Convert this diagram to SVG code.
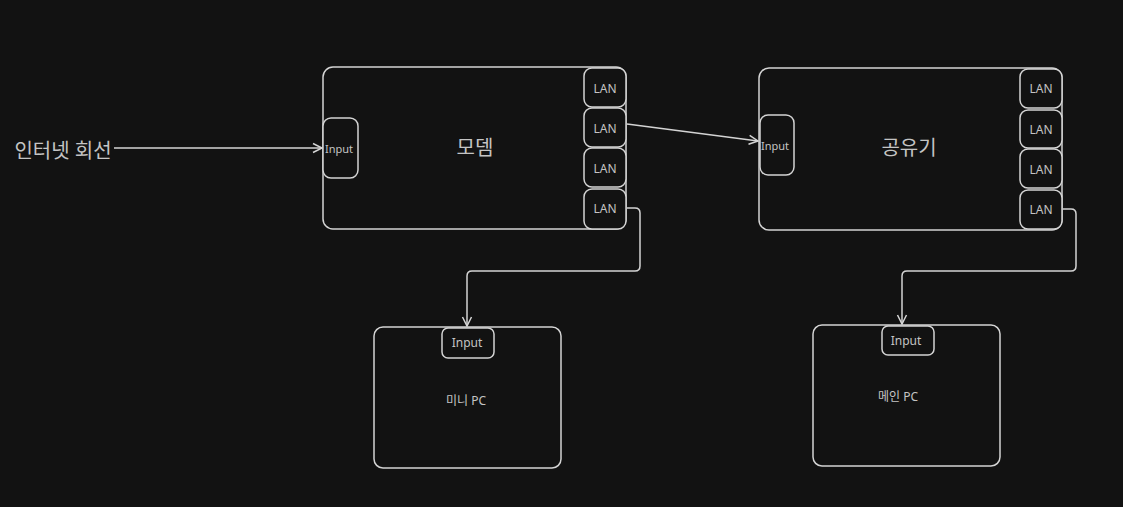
<svg xmlns="http://www.w3.org/2000/svg" width="1123" height="507" viewBox="0 0 1123 507">
<style>
.box{fill:#121212;stroke:#d4d4d4;stroke-width:1.5}
.port{fill:#121212;stroke:#d4d4d4;stroke-width:1.5}
.t{font-family:"Noto Sans","Noto Sans CJK KR",sans-serif;fill:#c4c4c4;text-anchor:middle;dominant-baseline:central}
.s{font-size:11px}
.p{font-size:12px}
.l{font-size:20px}
.edge{fill:none;stroke:#d4d4d4;stroke-width:1.5;marker-end:url(#arr)}
</style>
<defs>
<marker id="arr" markerWidth="12" markerHeight="12" refX="10" refY="6" orient="auto" markerUnits="userSpaceOnUse">
<path d="M1,1.5 L10,6 L1,10.5" fill="none" stroke="#d4d4d4" stroke-width="1.5"/>
</marker>
</defs>
<rect width="1123" height="507" fill="#121212"/>
<g id="connectors">
<path class="edge" d="M114,148 L322,148"/>
<path class="edge" d="M627,124 L758,141"/>
<path class="edge" d="M627,208 L635,208 Q640,208 640,213 L640,266 Q640,271 635,271 L472,271 Q467,271 467,276 L467,326"/>
<path class="edge" d="M1063,209 L1071,209 Q1076,209 1076,214 L1076,266 Q1076,271 1071,271 L907,271 Q902,271 902,276 L902,324"/>
</g>
<g id="internet">
<text class="t" x="63" y="150" style="font-size:20px">인터넷 회선</text>
</g>
<g id="modem">
<rect class="box" x="323" y="67" width="303" height="162" rx="10"/>
<text class="t l" x="475" y="147">모뎀</text>
<rect class="port" x="323" y="118" width="35" height="60" rx="8"/>
<text class="t s" x="339" y="148">Input</text>
<rect class="port" x="584" y="68" width="42" height="39" rx="8"/>
<text class="t p" x="605" y="88">LAN</text>
<rect class="port" x="584" y="108" width="42" height="39" rx="8"/>
<text class="t p" x="605" y="128">LAN</text>
<rect class="port" x="584" y="148" width="42" height="39" rx="8"/>
<text class="t p" x="605" y="168">LAN</text>
<rect class="port" x="584" y="189" width="42" height="40" rx="8"/>
<text class="t p" x="605" y="208">LAN</text>
</g>
<g id="router">
<rect class="box" x="759" y="68" width="303" height="162" rx="10"/>
<text class="t l" x="909" y="147">공유기</text>
<rect class="port" x="760" y="115" width="34" height="60" rx="8"/>
<text class="t s" x="775" y="145">Input</text>
<rect class="port" x="1020" y="69" width="42" height="39" rx="8"/>
<text class="t p" x="1041" y="88">LAN</text>
<rect class="port" x="1020" y="110" width="42" height="38" rx="8"/>
<text class="t p" x="1041" y="129">LAN</text>
<rect class="port" x="1020" y="149" width="42" height="39" rx="8"/>
<text class="t p" x="1041" y="169">LAN</text>
<rect class="port" x="1020" y="190" width="42" height="39" rx="8"/>
<text class="t p" x="1041" y="209">LAN</text>
</g>
<g id="minipc">
<rect class="box" x="374" y="327" width="187" height="141" rx="9"/>
<rect class="port" x="442" y="328" width="52" height="30" rx="6"/>
<text class="t p" x="467" y="342">Input</text>
<text class="t p" x="466" y="400">미니 PC</text>
</g>
<g id="mainpc">
<rect class="box" x="813" y="325" width="187" height="141" rx="9"/>
<rect class="port" x="882" y="326" width="52" height="29" rx="6"/>
<text class="t p" x="906" y="340">Input</text>
<text class="t p" x="898" y="396">메인 PC</text>
</g>
</svg>
